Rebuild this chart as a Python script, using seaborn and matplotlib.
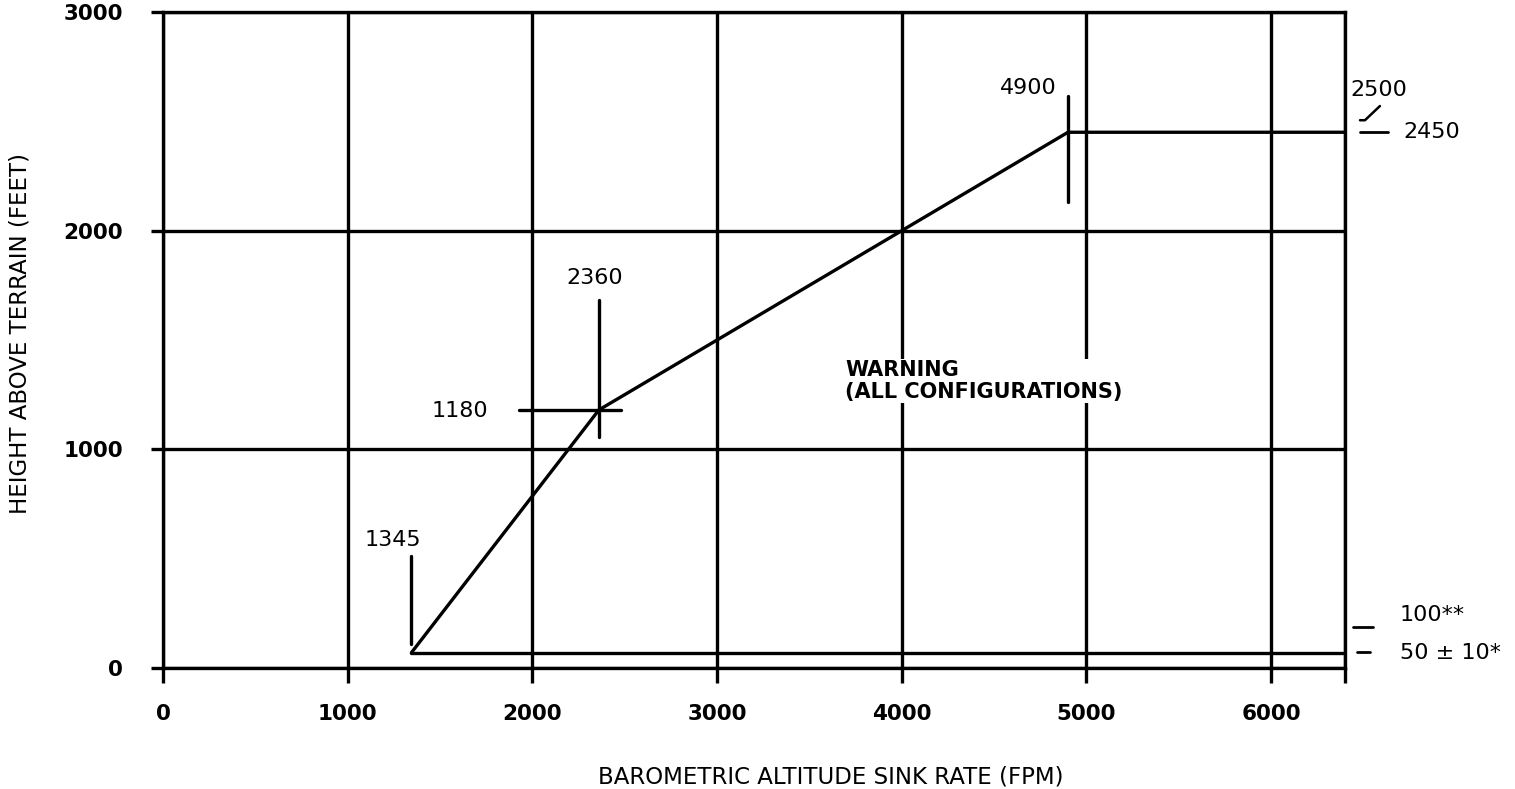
import matplotlib
matplotlib.use("Agg")
import matplotlib.pyplot as plt
import seaborn as sns
import pandas as pd

# Curva de alerta (tasa de descenso vs altura)
sink_rate = [1345, 2360, 4900, 6400]
height = [70, 1180, 2450, 2450]
# Límite inferior
floor_rate = [1345, 6400]
floor_height = [70, 70]

# Marcas de referencia
mark_1345 = [110, 510]
mark_2360 = [1055, 1685]
mark_4900 = [2130, 2615]
mark_1180 = [1930, 2480]

x_ticks = [0, 1000, 2000, 3000, 4000, 5000, 6000, 6400]
x_labels = ["0", "1000", "2000", "3000", "4000", "5000", "6000", ""]
y_ticks = [0, 1000, 2000, 3000]
y_labels = ["0", "1000", "2000", "3000"]

sns.set_theme(style="white")
plt.rcParams["font.family"] = ["DejaVu Sans"]
plt.rcParams["text.color"] = "black"
plt.rcParams["axes.labelcolor"] = "black"

LW = 2.4
fig = plt.figure(figsize=(15.15, 7.89), dpi=100)
ax = fig.add_axes([0.1076, 0.1534, 0.7802, 0.8314])

df = pd.DataFrame({"rate": sink_rate, "height": height})
df_floor = pd.DataFrame({"rate": floor_rate, "height": floor_height})
sns.lineplot(data=df, x="rate", y="height", sort=False, color="black", lw=LW, ax=ax)
sns.lineplot(data=df_floor, x="rate", y="height", sort=False, color="black", lw=LW, ax=ax)

# Líneas de referencia
ax.plot([1345, 1345], mark_1345, color="black", lw=LW)
ax.plot([2360, 2360], mark_2360, color="black", lw=LW)
ax.plot([4900, 4900], mark_4900, color="black", lw=LW)
ax.plot(mark_1180, [1180, 1180], color="black", lw=LW)

ax.set_xlim(0, 6400)
ax.set_ylim(0, 3000)
ax.set_xticks(x_ticks, x_labels)
ax.set_yticks(y_ticks, y_labels)
ax.grid(True, color="black", lw=LW)
ax.set_axisbelow(True)
for s in ax.spines.values():
    s.set_visible(True)
    s.set_color("black")
    s.set_linewidth(LW)

ax.tick_params(axis="x", bottom=True, direction="out", length=11, width=LW, pad=15,
               labelsize=15.5, colors="black")
ax.tick_params(axis="y", left=True, direction="out", length=9, width=LW, pad=20,
               labelsize=15.5, colors="black")
for lab in ax.get_xticklabels() + ax.get_yticklabels():
    lab.set_fontweight("bold")

ax.set_xlabel("BAROMETRIC ALTITUDE SINK RATE (FPM)", fontsize=16.5, color="black")
ax.xaxis.set_label_coords(0.565, -0.148)
ax.set_ylabel("HEIGHT ABOVE TERRAIN (FEET)", fontsize=16.5, color="black")
ax.yaxis.set_label_coords(-0.111, 0.51)

# Etiquetas de valores
txt = dict(fontsize=16, color="black")
ax.text(1245, 585, "1345", ha="center", va="center", **txt)
ax.text(2339, 1783, "2360", ha="center", va="center", **txt)
ax.text(1760, 1175, "1180", ha="right", va="center", **txt)
ax.text(4683, 2652, "4900", ha="center", va="center", **txt)
ax.text(3693, 1312, "WARNING\n(ALL CONFIGURATIONS)", ha="left", va="center",
        fontsize=15, fontweight="bold", color="black", linespacing=1.1, zorder=4,
        bbox=dict(facecolor="white", edgecolor="none", pad=1))

# Marcas fuera del eje derecho
ax.plot([6481, 6632], [2450, 2450], color="black", lw=2, clip_on=False)
ax.plot([6481, 6508, 6589], [2505, 2505, 2570], color="black", lw=1.8, clip_on=False)
ax.plot([6443, 6551], [187, 187], color="black", lw=2, clip_on=False)
ax.plot([6464, 6535], [73, 73], color="black", lw=2, clip_on=False)
ax.text(6430, 2645, "2500", ha="left", va="center", clip_on=False, **txt)
ax.text(6714, 2450, "2450", ha="left", va="center", clip_on=False, **txt)
ax.text(6697, 240, "100**", ha="left", va="center", clip_on=False, **txt)
ax.text(6697, 70, "50 ± 10*", ha="left", va="center", clip_on=False, **txt)

fig.savefig("out.png", dpi=100)
